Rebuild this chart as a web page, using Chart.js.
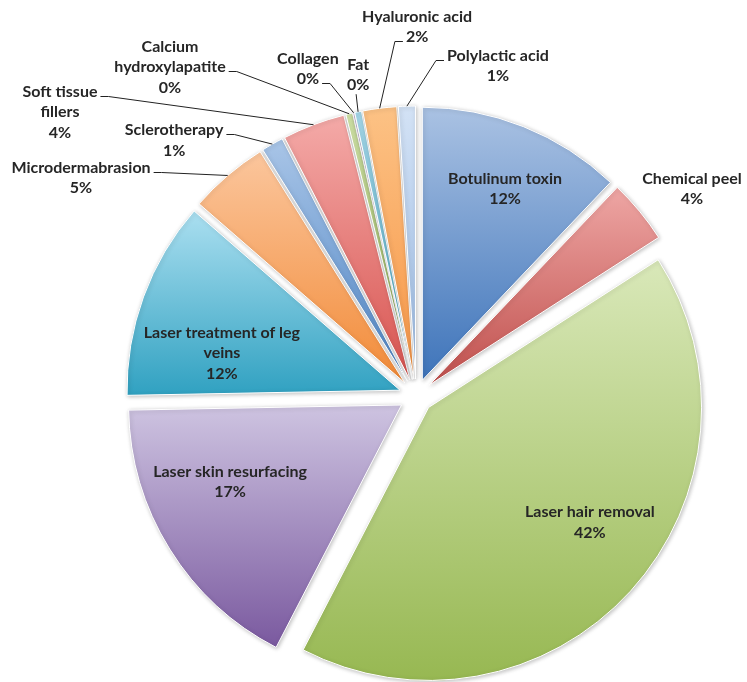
<!DOCTYPE html>
<html><head><meta charset="utf-8">
<script src="https://cdn.jsdelivr.net/npm/chart.js@4.4.0/dist/chart.umd.min.js"></script>
<style>html,body{margin:0;padding:0;background:#fff}canvas{display:block}</style>
</head><body>
<canvas id="c" width="747" height="682"></canvas>
<script>
// ---- data ----
const categories = ['Botulinum toxin','Chemical peel','Laser hair removal','Laser skin resurfacing','Laser treatment of leg veins','Microdermabrasion','Sclerotherapy','Soft tissue fillers','Calcium hydroxylapatite','Collagen','Fat','Hyaluronic acid','Polylactic acid'];
const shares = [12.1, 3.8, 41.7, 17.1, 11.7, 4.7, 1.3, 3.7, 0.4, 0.1, 0.4, 2.0, 1.0];
// word index at which a label wraps (0 = no wrap)
const wrapAt = [0, 0, 0, 0, 4, 0, 0, 2, 1, 0, 0, 0, 0];

// ---- style ----
const topColors    = ['#aac2e3','#eea6a4','#d9e8b9','#cec4e1','#abdff0','#fbc69d','#a9c5e7','#f4aaa8','#d2e4a9','#c2b3d9','#a6d9eb','#fcc285','#d3e2f5'];
const bottomColors = ['#3e74ba','#c0504d','#97b852','#7a599f','#30a1c1','#f28b38','#4e85c5','#d85450','#9bbb59','#8064a2','#4bacc6','#f79646','#9cbce5'];
const explode = [17, 17, 17, 17, 17, 17, 17, 17, 17, 17, 17, 17, 17];
// label block centres, in units of the pie radius relative to the pie centre
const labelPos = [[0.326,-0.758],[1.011,-0.758],[0.637,0.462],[-0.681,0.315],[-0.711,-0.158],[-1.227,-0.799],[-0.886,-0.936],[-1.304,-1.040],[-0.901,-1.205],[-0.396,-1.198],[-0.212,-1.176],[0.004,-1.352],[0.300,-1.209]];
const leaders = [null,null,null,null,null,{line:0,side:'r'},{line:0,side:'r'},{line:0,side:'r'},{line:1,side:'r'},{line:1,side:'r'},{side:'b'},{line:1,side:'l'},{line:0,side:'l'}];
const FONT = 'bold 16px Lato';
const LINE_H = 20.5;
const TEXT_COLOR = '#262626';

const total = shares.reduce((a,b)=>a+b,0);
const pctLabels = shares.map(v => Math.round(v/total*100) + '%');
function linesFor(i){
  const words = categories[i].split(' ');
  const out = wrapAt[i] ? [words.slice(0,wrapAt[i]).join(' '), words.slice(wrapAt[i]).join(' ')] : [categories[i]];
  out.push(pctLabels[i]);
  return out;
}

const explodeGradient = {
  id: 'explodeGradient',
  afterDatasetUpdate(chart, args) {
    const ctx = chart.ctx;
    args.meta.data.forEach((arc, i) => {
      const a0 = arc.startAngle, a1 = arc.endAngle, R = arc.outerRadius;
      const mid = (a0 + a1) / 2;
      arc.x += Math.cos(mid) * explode[i];
      arc.y += Math.sin(mid) * explode[i];
      const ys = [arc.y, arc.y + R*Math.sin(a0), arc.y + R*Math.sin(a1)];
      for (const t of [-Math.PI/2, Math.PI/2, 3*Math.PI/2]) if (t > a0 && t < a1) ys.push(arc.y + R*Math.sin(t));
      const y0 = Math.min(...ys), y1 = Math.max(...ys);
      const g = ctx.createLinearGradient(0, y0, 0, y1 > y0 ? y1 : y0 + 1);
      g.addColorStop(0, topColors[i]);
      g.addColorStop(1, bottomColors[i]);
      arc.options.backgroundColor = g;
    });
  },
  beforeDatasetsDraw(chart) {
    const ctx = chart.ctx;
    ctx.save();
    ctx.shadowColor = 'rgba(0,0,0,0.25)';
    ctx.shadowBlur = 4;
    ctx.shadowOffsetX = 1;
    ctx.shadowOffsetY = 1;
  },
  afterDatasetsDraw(chart) { chart.ctx.restore(); },
  afterDraw(chart) {
    const ctx = chart.ctx;
    const meta = chart.getDatasetMeta(0);
    const ca = chart.chartArea;
    const cx = (ca.left + ca.right) / 2, cy = (ca.top + ca.bottom) / 2;
    const R = meta.controller.outerRadius;
    ctx.save();
    ctx.font = FONT;
    ctx.fillStyle = TEXT_COLOR;
    ctx.textAlign = 'center';
    ctx.textBaseline = 'middle';
    meta.data.forEach((arc, i) => {
      const lines = linesFor(i);
      const bx = cx + labelPos[i][0] * R, by = cy + labelPos[i][1] * R;
      const ly = k => by + (k - (lines.length - 1) / 2) * LINE_H;
      lines.forEach((t, k) => ctx.fillText(t, bx, ly(k)));
      const L = leaders[i];
      if (!L) return;
      const mid = (arc.startAngle + arc.endAngle) / 2;
      const ex = arc.x + Math.cos(mid) * arc.outerRadius;
      const ey = arc.y + Math.sin(mid) * arc.outerRadius;
      ctx.beginPath();
      ctx.strokeStyle = '#222';
      ctx.lineWidth = 1;
      if (L.side === 'b') {
        const sy = ly(lines.length - 1) + 9;
        ctx.moveTo(bx - 2, sy);
        ctx.lineTo(ex, ey);
      } else {
        const w = ctx.measureText(lines[L.line]).width;
        const yy = Math.round(ly(L.line) + 4) + 0.5;
        const dir = L.side === 'r' ? 1 : -1;
        const sx = bx + dir * (w / 2 + 3);
        ctx.moveTo(sx, yy);
        ctx.lineTo(sx + dir * 8, yy);
        ctx.lineTo(ex, ey);
      }
      ctx.stroke();
    });
    ctx.restore();
  }
};

new Chart(document.getElementById('c'), {
  type: 'pie',
  data: {
    labels: categories,
    datasets: [{
      data: shares,
      backgroundColor: c => bottomColors[c.dataIndex],
      borderColor: '#ffffff',
      borderWidth: 1,
      radius: 273
    }]
  },
  options: {
    responsive: false,
    animation: false,
    events: [],
    layout: { padding: { left: 85, top: 110, right: 0, bottom: 0 } },
    plugins: { legend: { display: false }, tooltip: { enabled: false } }
  },
  plugins: [explodeGradient]
});
</script>
</body></html>
